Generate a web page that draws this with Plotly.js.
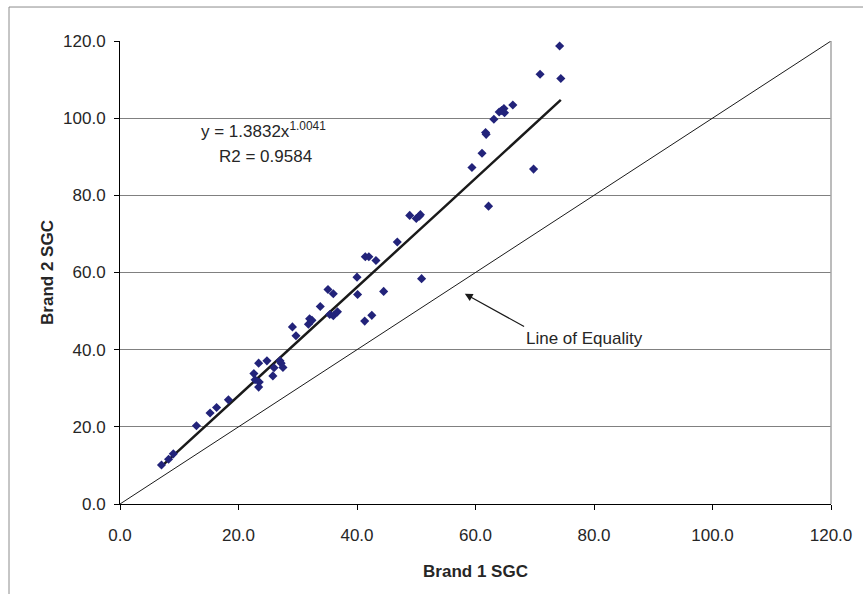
<!DOCTYPE html>
<html>
<head>
<meta charset="utf-8">
<script src="https://cdn.plot.ly/plotly-3.0.1.min.js"></script>
<style>
  html, body { margin: 0; padding: 0; background: #ffffff; }
  #chart { width: 863px; height: 594px; }
</style>
</head>
<body>
<div id="chart"></div>
<script>
// Specific gravity comparison: Brand 1 vs Brand 2
const brand1SGC = [
  7.0, 8.2, 9.0, 12.9, 15.2, 16.3, 18.3, 22.6, 23.4, 22.8,
  23.5, 23.4, 24.8, 26.0, 25.8, 27.0, 27.2, 27.5, 29.1, 29.7,
  31.8, 32.0, 32.4, 33.8, 35.4, 36.0, 36.7, 35.1, 36.0, 40.1,
  40.0, 41.3, 42.5, 41.4, 42.0, 43.2, 44.5, 46.8, 48.9, 50.0,
  50.5, 50.7, 50.9, 59.4, 69.8, 62.2, 74.2, 70.9, 74.4, 66.3,
  64.8, 64.0, 64.9, 64.4, 63.1, 61.7, 61.8, 61.1
];
const brand2SGC = [
  10.1, 11.6, 13.0, 20.3, 23.6, 25.0, 27.0, 33.8, 36.5, 32.2,
  31.6, 30.3, 37.1, 35.3, 33.2, 37.1, 36.5, 35.4, 45.9, 43.6,
  46.6, 48.0, 47.6, 51.2, 49.1, 48.8, 49.8, 55.6, 54.5, 54.3,
  58.8, 47.4, 48.9, 64.1, 64.1, 63.1, 55.1, 67.9, 74.8, 74.0,
  74.6, 75.0, 58.4, 87.2, 86.8, 77.2, 118.7, 111.4, 110.3, 103.4,
  102.5, 101.6, 101.4, 102.0, 99.7, 96.3, 95.8, 90.9
];

// Power trendline coefficients, as printed on the chart
const trendCoef = 1.3832;
const trendExp = 1.0041;
const trendR2 = 0.9584;

// Line of equality endpoints
const equalityX = [0, 120];
const equalityY = [0, 120];

const axisTicks = [0, 20, 40, 60, 80, 100, 120];

const xMin = Math.min(...brand1SGC);
const xMax = Math.max(...brand1SGC);
const trendX = [];
const trendY = [];
for (let i = 0; i <= 20; i++) {
  const x = xMin + (xMax - xMin) * i / 20;
  trendX.push(x);
  trendY.push(trendCoef * Math.pow(x, trendExp));
}

const FONT = 'Liberation Sans, Arial, sans-serif';
const TEXT_COLOR = '#262626';

const traces = [
  {
    x: equalityX, y: equalityY, type: 'scatter', mode: 'lines',
    line: { color: '#1a1a1a', width: 1 }, hoverinfo: 'skip', showlegend: false
  },
  {
    x: trendX, y: trendY, type: 'scatter', mode: 'lines',
    line: { color: '#1a1a1a', width: 2.5 }, hoverinfo: 'skip', showlegend: false
  },
  {
    x: brand1SGC, y: brand2SGC, type: 'scatter', mode: 'markers',
    marker: { symbol: 'diamond', size: 7, color: '#22237a' },
    showlegend: false
  }
];

const axisCommon = {
  range: [0, 120],
  tickvals: axisTicks,
  tickformat: '.1f',
  ticks: 'outside',
  ticklen: 5,
  tickcolor: '#000000',
  tickwidth: 1,
  showline: true,
  linecolor: '#000000',
  linewidth: 1,
  zeroline: false,
  tickfont: { family: FONT, size: 17, color: TEXT_COLOR },
  fixedrange: true
};

const layout = {
  width: 863,
  height: 594,
  margin: { l: 120, r: 32, t: 41, b: 90 },
  paper_bgcolor: '#ffffff',
  plot_bgcolor: '#ffffff',
  font: { family: FONT, size: 17, color: TEXT_COLOR },
  xaxis: Object.assign({}, axisCommon, {
    showgrid: false,
    ticklabelstandoff: 11,
    title: { text: '<b>Brand 1 SGC</b>', font: { family: FONT, size: 17, color: TEXT_COLOR }, standoff: 20 }
  }),
  yaxis: Object.assign({}, axisCommon, {
    showgrid: true,
    gridcolor: '#808080',
    gridwidth: 1,
    ticklabelstandoff: 5,
    title: { text: '<b>Brand 2 SGC</b>', font: { family: FONT, size: 17, color: TEXT_COLOR }, standoff: 5 }
  }),
  shapes: [
    // right edge of plot area
    { type: 'line', xref: 'paper', yref: 'paper', x0: 1, x1: 1, y0: 0, y1: 1,
      line: { color: '#a6a6a6', width: 1.5 } },
    // chart frame (left and top edges)
    { type: 'path', xref: 'paper', yref: 'paper',
      path: 'M -0.1561 -0.2 L -0.1561 1.0734 L 1.05 1.0734',
      line: { color: '#8c8c8c', width: 1 } }
  ],
  annotations: [
    {
      xref: 'x', yref: 'y', x: 24.2, y: 96.9,
      text: 'y = ' + trendCoef.toFixed(4) + 'x<sup>' + trendExp.toFixed(4) + '</sup>',
      showarrow: false, font: { family: FONT, size: 17, color: TEXT_COLOR },
      xanchor: 'center', yanchor: 'middle'
    },
    {
      xref: 'x', yref: 'y', x: 24.6, y: 90.0,
      text: 'R2 = ' + trendR2.toFixed(4),
      showarrow: false, font: { family: FONT, size: 17, color: TEXT_COLOR },
      xanchor: 'center', yanchor: 'middle'
    },
    {
      // label with its arrow pointing at the equality line
      xref: 'x', yref: 'y', x: 58.2, y: 54.5,
      axref: 'x', ayref: 'y', ax: 68.2, ay: 46.0,
      text: 'Line of Equality',
      xanchor: 'left', yanchor: 'top',
      font: { family: FONT, size: 17, color: TEXT_COLOR },
      showarrow: true,
      arrowhead: 2, arrowsize: 1.3, arrowwidth: 1.2, arrowcolor: '#1a1a1a',
      standoff: 0, startstandoff: 0
    }
  ]
};

Plotly.newPlot('chart', traces, layout, { staticPlot: true, displayModeBar: false });
</script>
</body>
</html>
